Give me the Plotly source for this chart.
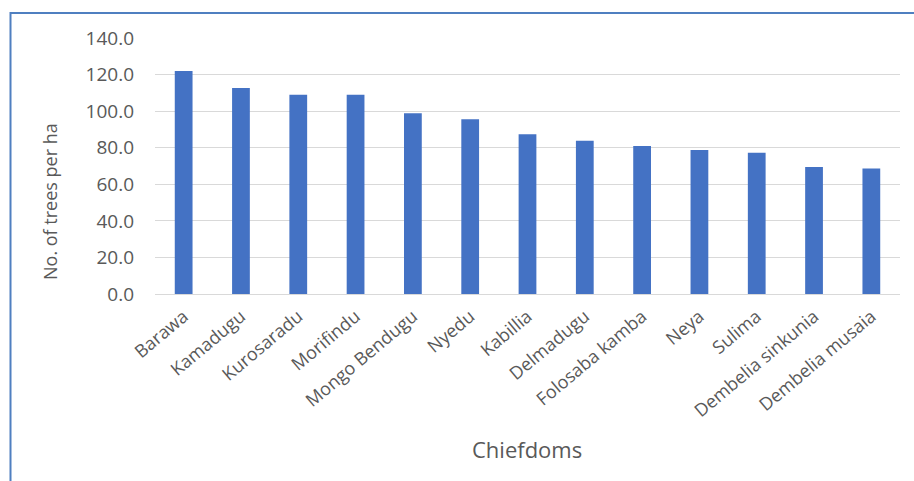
import plotly.graph_objects as go

# Tree density per chiefdom
chiefdoms = [
    "Barawa", "Kamadugu", "Kurosaradu", "Morifindu", "Mongo Bendugu",
    "Nyedu", "Kabillia", "Delmadugu", "Folosaba kamba", "Neya",
    "Sulima", "Dembelia sinkunia", "Dembelia musaia",
]
trees_per_ha = [122.0, 112.6, 109.0, 109.0, 98.8, 95.5, 87.3, 83.8, 80.9, 78.7, 77.3, 69.4, 68.7]
y_ticks = [0, 20, 40, 60, 80, 100, 120, 140]

W, H = 914, 481
ML, MR, MT, MB = 155, 14, 38, 187
pw, ph = W - ML - MR, H - MT - MB

def px_x(x):
    return (x - ML) / pw

def px_y(y):
    return (H - MB - y) / ph

font_family = "Open Sans, Segoe UI, Liberation Sans, sans-serif"
grey = "#595959"

fig = go.Figure(
    go.Bar(
        x=chiefdoms,
        y=trees_per_ha,
        marker=dict(color="#4472C4", line=dict(width=0)),
    )
)

# Outer chart frame (left and top edges)
fig.add_shape(
    type="path",
    xref="paper", yref="paper",
    path=f"M {px_x(10.5)} {px_y(H + 5)} L {px_x(10.5)} {px_y(13)} L {px_x(W + 5)} {px_y(13)}",
    line=dict(color="#4F7FC0", width=2),
    layer="above",
)

# Axis titles
fig.add_annotation(
    text="Chiefdoms", xref="paper", yref="paper",
    x=px_x(527), y=px_y(449), xanchor="center", yanchor="middle",
    showarrow=False, font=dict(size=22, color=grey, family=font_family),
)
fig.add_annotation(
    text="No. of trees per ha", xref="paper", yref="paper",
    x=px_x(50), y=px_y(202), xanchor="center", yanchor="middle", textangle=-90,
    showarrow=False, font=dict(size=18, color=grey, family=font_family),
)

fig.update_layout(
    width=W, height=H,
    margin=dict(l=ML, r=MR, t=MT, b=MB, autoexpand=False),
    paper_bgcolor="white", plot_bgcolor="white",
    bargap=0.69,
    showlegend=False,
    font=dict(family=font_family, color=grey, size=14),
    xaxis=dict(
        tickangle=-40,
        tickfont=dict(size=18, color=grey),
        showgrid=False,
        showline=True, linecolor="#d9d9d9", linewidth=1,
        ticks="",
        ticklabelstandoff=4,
        automargin=False,
    ),
    yaxis=dict(
        range=[0, 140],
        tickvals=y_ticks,
        tickformat=".1f",
        tickfont=dict(size=19, color=grey),
        showgrid=True, gridcolor="#d9d9d9", gridwidth=1,
        zeroline=True, zerolinecolor="#d9d9d9", zerolinewidth=1,
        showline=False, ticks="",
        ticklabelstandoff=20,
        automargin=False,
    ),
)

fig.write_html("out.html")
